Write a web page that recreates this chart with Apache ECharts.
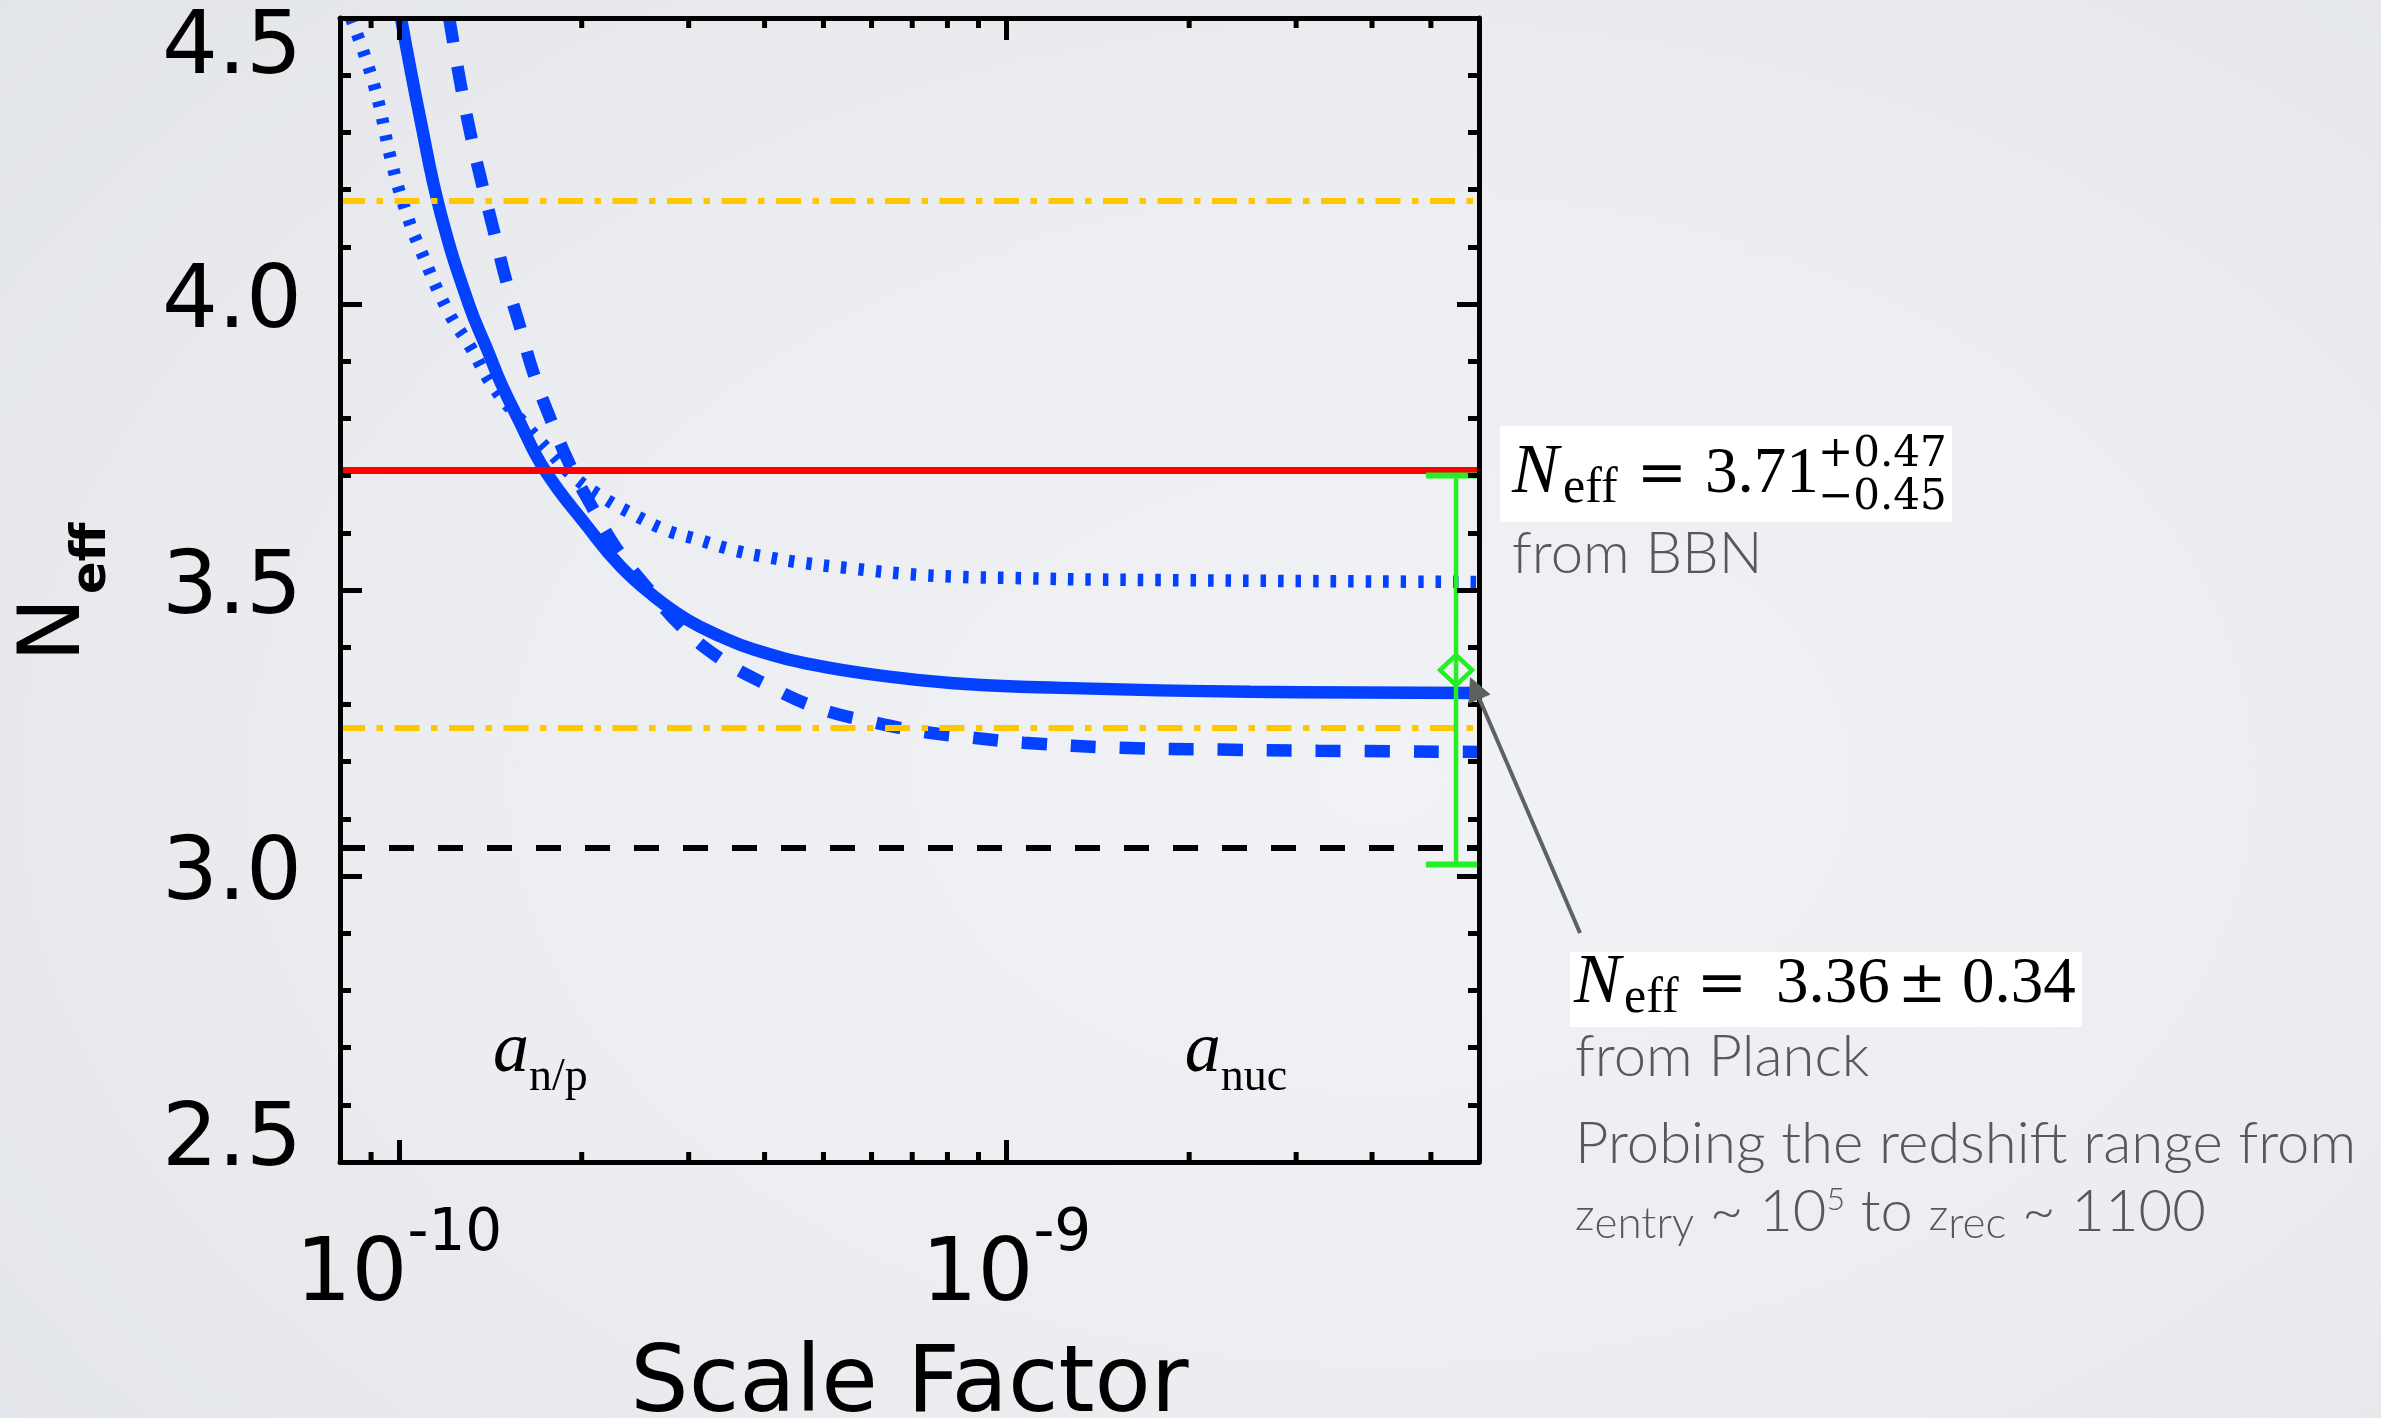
<!DOCTYPE html>
<html>
<head>
<meta charset="utf-8">
<title>N_eff vs scale factor</title>
<script src="https://cdn.jsdelivr.net/npm/echarts@6/dist/echarts.min.js"></script>
<style>
  html, body { margin: 0; padding: 0; }
  body {
    width: 2381px; height: 1418px; overflow: hidden;
    background: radial-gradient(ellipse 80% 90% at 58% 55%, #f1f2f5 0%, #ecedf0 50%, #e1e4e8 100%);
  }
  #chart { width: 2381px; height: 1418px; }
</style>
</head>
<body>
<div id="chart"></div>
<script>
// ---- data -------------------------------------------------------------
// Solid curve: scale factor and N_eff
const solidA = [1.008e-10, 1.087e-10, 1.172e-10, 1.303e-10, 1.401e-10, 1.472e-10, 1.569e-10, 1.74e-10,
                2.043e-10, 2.318e-10, 2.63e-10, 2.985e-10, 3.385e-10, 3.84e-10, 4.82e-10, 6.36e-10,
                8.19e-10, 1.055e-9, 2.52e-9, 6.0e-9];
const solidN = [4.50, 4.318, 4.158, 4.000, 3.918, 3.862, 3.801, 3.709,
                3.611, 3.541, 3.489, 3.448, 3.419, 3.396, 3.369, 3.349,
                3.337, 3.331, 3.322, 3.320];

// Dashed curve
const dashedA = [1.21e-10, 1.265e-10, 1.313e-10, 1.369e-10, 1.433e-10, 1.500e-10, 1.581e-10, 1.667e-10,
                 1.778e-10, 1.918e-10, 2.093e-10, 2.301e-10, 2.597e-10, 2.931e-10, 3.360e-10, 3.969e-10,
                 4.888e-10, 6.087e-10, 7.303e-10, 8.79e-10, 1.067e-9, 1.545e-9, 2.249e-9, 3.26e-9, 6.0e-9];
const dashedN = [4.50, 4.382, 4.296, 4.212, 4.128, 4.043, 3.962, 3.878,
                 3.798, 3.716, 3.640, 3.567, 3.497, 3.434, 3.382, 3.338,
                 3.294, 3.268, 3.252, 3.242, 3.233, 3.224, 3.221, 3.219, 3.217];

// Dotted curve
const dottedA = [0.834e-10, 0.910e-10, 0.978e-10, 1.035e-10, 1.087e-10, 1.204e-10, 1.313e-10, 1.433e-10,
                 1.630e-10, 1.778e-10, 1.941e-10, 2.174e-10, 2.435e-10, 2.749e-10, 3.114e-10, 3.542e-10,
                 4.014e-10, 4.583e-10, 5.643e-10, 6.873e-10, 8.404e-10, 1.015e-9, 1.494e-9, 6.0e-9];
const dottedN = [4.50, 4.383, 4.238, 4.151, 4.093, 3.988, 3.924, 3.854,
                 3.784, 3.740, 3.698, 3.661, 3.632, 3.605, 3.588, 3.570,
                 3.558, 3.548, 3.537, 3.528, 3.523, 3.521, 3.518, 3.514];

// Axes
const xMin = 8e-11, xMax = 6e-9;
const yMin = 2.5, yMax = 4.5, yStep = 0.5;
const xMinorTicks = [9e-11, 2e-10, 3e-10, 4e-10, 5e-10, 6e-10, 7e-10, 8e-10, 9e-10,
                     2e-9, 3e-9, 4e-9, 5e-9];

// Epochs (vertical dotted lines)
const aNP = 1.3e-10;
const aNuc = 3.3e-9;

// Reference values
const nStandard = 3.046;
const bbnValue = 3.71, bbnPlus = 0.47, bbnMinus = 0.45;
const planckA = 5.5e-9, planckValue = 3.36, planckErr = 0.34;

// ---- styles -----------------------------------------------------------
const BLUE = '#0341ff', RED = '#ff0000', GOLD = '#ffc700', GREEN = '#22f022';
const GRAY = '#585858';
const AXIS_FONT = 'DejaVu Sans';

const chart = echarts.init(document.getElementById('chart'), null, { renderer: 'canvas' });

function curve(name, a, n, dash) {
  return {
    type: 'line', name, z: 3, silent: true, animation: false,
    data: a.map((v, i) => [v, n[i]]),
    symbol: 'none', showSymbol: false, smooth: 0.45, clip: true,
    lineStyle: { color: BLUE, width: 12.5, type: dash, cap: 'butt' }
  };
}

const frameLine = { show: true, onZero: false, lineStyle: { color: '#000', width: 5 } };
const majorTick = { show: true, inside: true, length: 22, lineStyle: { color: '#000', width: 5 } };

function powLabel(v) {
  const e = Math.log10(v);
  const r = Math.round(e);
  if (Math.abs(e - r) > 1e-6) return '';
  return '{b|10}{s|' + (r < 0 ? '-' : '') + Math.abs(r) + '}';
}

function yLabel(v) {
  const s = v.toFixed(1);
  if (Math.abs(v - yMax) < 1e-9) return '{t|' + s + '}';
  if (Math.abs(v - yMin) < 1e-9) return '{m|' + s + '}';
  return '{r|' + s + '}';
}
const yTok = { fontSize: 88, fontFamily: AXIS_FONT, color: '#000', verticalAlign: 'middle' };

const option = {
  animation: false,
  backgroundColor: 'transparent',
  grid: { left: 340, top: 18, right: 902, bottom: 256, containLabel: false, outerBoundsMode: 'none' },
  xAxis: [
    {
      type: 'log', logBase: 10, min: xMin, max: xMax, position: 'bottom', z: 10,
      axisLine: frameLine, axisTick: majorTick,
      splitLine: { show: false }, minorTick: { show: false }, minorSplitLine: { show: false },
      axisLabel: {
        margin: 44, formatter: powLabel,
        rich: {
          b: { fontSize: 88, fontFamily: AXIS_FONT, color: '#000', verticalAlign: 'middle' },
          s: { fontSize: 58, fontFamily: AXIS_FONT, color: '#000', verticalAlign: 'middle', padding: [0, 0, 84, 0] }
        }
      },
      name: 'Scale Factor', nameLocation: 'middle', nameGap: 179,
      nameTextStyle: { fontSize: 92, fontFamily: AXIS_FONT, color: '#000' }
    },
    {
      type: 'log', logBase: 10, min: xMin, max: xMax, position: 'top', z: 10,
      axisLine: frameLine, axisTick: majorTick,
      splitLine: { show: false }, axisLabel: { show: false }
    }
  ],
  yAxis: [
    {
      type: 'value', min: yMin, max: yMax, interval: yStep, position: 'left', z: 10,
      axisLine: frameLine, axisTick: majorTick,
      minorTick: { show: true, splitNumber: 5, length: 11, lineStyle: { color: '#000', width: 5 } },
      splitLine: { show: false }, minorSplitLine: { show: false },
      axisLabel: {
        margin: 38, formatter: yLabel,
        rich: {
          t: Object.assign({}, yTok, { padding: [64, 0, 0, 0] }),
          m: Object.assign({}, yTok, { padding: [0, 0, 40, 0] }),
          r: yTok
        }
      }
    },
    {
      type: 'value', min: yMin, max: yMax, interval: yStep, position: 'right', z: 10,
      axisLine: frameLine, axisTick: majorTick,
      minorTick: { show: true, splitNumber: 5, length: 11, lineStyle: { color: '#000', width: 5 } },
      splitLine: { show: false }, axisLabel: { show: false }
    }
  ],
  series: [
    curve('dotted', dottedA, dottedN, [5.5, 12]),
    curve('dashed', dashedA, dashedN, [25, 24]),
    curve('solid', solidA, solidN, 'solid'),
    {
      // reference levels and epochs
      type: 'line', data: [], silent: true, animation: false,
      markLine: {
        silent: true, symbol: ['none', 'none'], label: { show: false }, animation: false, z: 5,
        data: [
          { yAxis: bbnValue + bbnPlus, lineStyle: { color: GOLD, width: 6, type: [25, 11.5, 6.5, 11.5] } },
          { yAxis: bbnValue - bbnMinus, lineStyle: { color: GOLD, width: 6, type: [25, 11.5, 6.5, 11.5] } },
          { yAxis: nStandard, lineStyle: { color: '#000', width: 6, type: [25, 24] } },
          { yAxis: bbnValue, lineStyle: { color: RED, width: 7, type: 'solid' } },
          { xAxis: aNP, lineStyle: { color: '#000', width: 6, type: [4.5, 12.8] } },
          { xAxis: aNuc, lineStyle: { color: '#000', width: 6, type: [4.5, 12.8] } }
        ]
      }
    },
    {
      // minor ticks of the logarithmic axis, bottom and top edges
      type: 'custom', silent: true, animation: false, z: 11,
      data: xMinorTicks.map(v => [v, yMin]),
      encode: { x: 0, y: 1 },
      renderItem(params, api) {
        const v = api.value(0);
        const b = api.coord([v, yMin]);
        const t = api.coord([v, yMax]);
        const st = { stroke: '#000', lineWidth: 5 };
        return {
          type: 'group', children: [
            { type: 'line', shape: { x1: b[0], y1: b[1], x2: b[0], y2: b[1] - 10 }, style: st },
            { type: 'line', shape: { x1: t[0], y1: t[1], x2: t[0], y2: t[1] + 10 }, style: st }
          ]
        };
      }
    },
    {
      // Planck measurement with error bar
      type: 'custom', silent: true, animation: false, z: 8, clip: true,
      data: [[planckA, planckValue, planckValue - planckErr, planckValue + planckErr]],
      encode: { x: 0, y: [1, 2, 3] },
      renderItem(params, api) {
        const x = api.value(0);
        const c = api.coord([x, api.value(1)]);
        const lo = api.coord([x, api.value(2)]);
        const hi = api.coord([x, api.value(3)]);
        return {
          type: 'group', children: [
            { type: 'line', shape: { x1: c[0], y1: lo[1], x2: c[0], y2: hi[1] }, style: { stroke: GREEN, lineWidth: 4.5 } },
            { type: 'line', shape: { x1: c[0] - 30, y1: lo[1], x2: c[0] + 30, y2: lo[1] }, style: { stroke: GREEN, lineWidth: 6 } },
            { type: 'line', shape: { x1: c[0] - 30, y1: hi[1], x2: c[0] + 30, y2: hi[1] }, style: { stroke: GREEN, lineWidth: 6 } },
            {
              type: 'polygon',
              shape: { points: [[c[0], c[1] - 15], [c[0] + 16, c[1]], [c[0], c[1] + 15], [c[0] - 16, c[1]]] },
              style: { fill: 'none', stroke: GREEN, lineWidth: 4.5 }
            }
          ]
        };
      }
    }
  ]
};

chart.setOption(option);

// ---- annotations ------------------------------------------------------
const toPx = (x, y) => chart.convertToPixel({ xAxisIndex: 0, yAxisIndex: 0 }, [x, y]);

// distance from the canvas 'middle' baseline to the alphabetic baseline, per font
const MID = { 'Liberation Serif': 0.3375, 'DejaVu Serif': 0.346, 'DejaVu Sans': 0.346, 'Lato': 0.387 };

function txt(x, base, text, size, family, opt) {
  opt = opt || {};
  return {
    type: 'text', x, y: base - MID[family] * size, silent: true, z: 50,
    style: {
      text, fontSize: size, fontFamily: family,
      fontStyle: opt.italic ? 'italic' : 'normal',
      fontWeight: opt.weight || 'normal',
      fill: opt.color || '#000',
      align: opt.align || 'left', verticalAlign: 'middle'
    }
  };
}

const elements = [];

// axis title N_eff, reading upwards
elements.push({
  type: 'text', x: 57, y: 662, rotation: Math.PI / 2, silent: true, z: 50,
  style: { text: 'N', fontSize: 86, fontFamily: AXIS_FONT, fill: '#000', align: 'left', verticalAlign: 'middle' }
});
elements.push({
  type: 'text', x: 93, y: 594, rotation: Math.PI / 2, silent: true, z: 50,
  style: { text: 'eff', fontSize: 48, fontWeight: 'bold', fontFamily: AXIS_FONT, fill: '#000', align: 'left', verticalAlign: 'middle' }
});

// epoch labels a_n/p and a_nuc
const epochRich = {
  a: { fontFamily: 'Liberation Serif', fontStyle: 'italic', fontSize: 72, verticalAlign: 'middle' },
  s: { fontFamily: 'Liberation Serif', fontSize: 46, verticalAlign: 'middle', padding: [52, 0, 0, 0] }
};
const pNP = toPx(aNP, yMin);
const pNuc = toPx(aNuc, yMin);
elements.push({
  type: 'text', x: pNP[0] + 25, y: pNP[1] - 110, silent: true, z: 50,
  style: { text: '{a|a}{s|n/p}', fill: '#000', align: 'left', verticalAlign: 'middle', rich: epochRich }
});
elements.push({
  type: 'text', x: pNuc[0] - 34, y: pNuc[1] - 110, silent: true, z: 50,
  style: { text: '{a|a}{s|nuc}', fill: '#000', align: 'right', verticalAlign: 'middle', rich: epochRich }
});

// BBN value box
elements.push({ type: 'rect', shape: { x: 1500, y: 426, width: 452, height: 96 }, style: { fill: '#ffffff' }, silent: true, z: 49 });
elements.push(txt(1512, 497, 'N', 70, 'Liberation Serif', { italic: true }));
elements.push(txt(1563, 506, 'eff', 50, 'Liberation Serif'));
elements.push(txt(1662, 497, '=', 60, 'DejaVu Serif', { align: 'center' }));
elements.push(txt(1705, 497, bbnValue.toFixed(2), 65, 'Liberation Serif'));
elements.push(txt(1818, 470, '+' + bbnPlus.toFixed(2), 42, 'DejaVu Serif'));
elements.push(txt(1818, 513, '\u2212' + bbnMinus.toFixed(2), 42, 'DejaVu Serif'));
elements.push(txt(1512, 577, 'from BBN', 58, 'Lato', { color: GRAY, weight: 300 }));

// Planck value box
elements.push({ type: 'rect', shape: { x: 1570, y: 952, width: 512, height: 75 }, style: { fill: '#ffffff' }, silent: true, z: 49 });
elements.push(txt(1574, 1007, 'N', 70, 'Liberation Serif', { italic: true }));
elements.push(txt(1624, 1016, 'eff', 50, 'Liberation Serif'));
elements.push(txt(1722, 1007, '=', 60, 'DejaVu Serif', { align: 'center' }));
elements.push(txt(1776, 1007, planckValue.toFixed(2), 65, 'Liberation Serif'));
elements.push(txt(1922, 1007, '\u00b1', 58, 'DejaVu Serif', { align: 'center' }));
elements.push(txt(1962, 1007, planckErr.toFixed(2), 65, 'Liberation Serif'));
elements.push(txt(1575, 1080, 'from Planck', 58, 'Lato', { color: GRAY, weight: 300 }));
elements.push(txt(1575, 1167, 'Probing the redshift range from', 58, 'Lato', { color: GRAY, weight: 300 }));

const lato = (size, pad) => ({ fontFamily: 'Lato', fontWeight: 300, fontSize: size, verticalAlign: 'middle', padding: pad || [0, 0, 0, 0] });
elements.push({
  type: 'text', x: 1575, y: 1235 - 0.387 * 58, silent: true, z: 50,
  style: {
    text: '{z|z}{sb|entry}{n| ~ 10}{sp|5}{n| to }{z|z}{sb|rec}{n| ~ 1100}',
    fill: GRAY, align: 'left', verticalAlign: 'middle',
    rich: { n: lato(58), z: lato(44, [7, 0, 0, 0]), sb: lato(44, [23, 0, 0, 0]), sp: lato(32, [0, 0, 26, 0]) }
  }
});

// arrow from the Planck label to the measurement
const pPl = toPx(planckA, planckValue);
const tip = [pPl[0] + 14, pPl[1] + 7];
const tail = [1580, 933];
const dx = tip[0] - tail[0], dy = tip[1] - tail[1];
const len = Math.hypot(dx, dy);
const ux = dx / len, uy = dy / len;
const headL = 24, headW = 12;
const baseC = [tip[0] - ux * headL, tip[1] - uy * headL];
elements.push({
  type: 'line', silent: true, z: 50,
  shape: { x1: tail[0], y1: tail[1], x2: baseC[0] + ux * 2, y2: baseC[1] + uy * 2 },
  style: { stroke: '#5e6161', lineWidth: 4 }
});
elements.push({
  type: 'polygon', silent: true, z: 50,
  shape: { points: [tip, [baseC[0] - uy * headW, baseC[1] + ux * headW], [baseC[0] + uy * headW, baseC[1] - ux * headW]] },
  style: { fill: '#5e6161' }
});

chart.setOption({ graphic: { elements } });
</script>
</body>
</html>
